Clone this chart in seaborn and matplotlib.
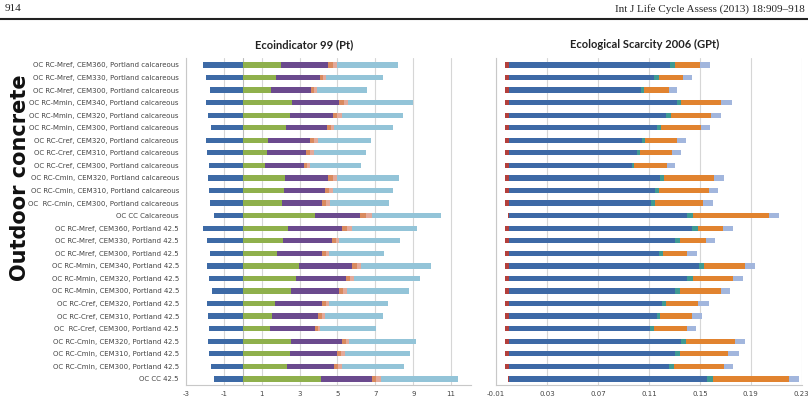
import numpy as np
import pandas as pd
import seaborn as sns
import matplotlib.pyplot as plt

sns.set_style("white")
plt.rcParams['font.family'] = ['DejaVu Sans']
plt.rcParams['axes.unicode_minus'] = False

labels = ["OC RC-Mref, CEM360, Portland calcareous",
          "OC RC-Mref, CEM330, Portland calcareous",
          "OC RC-Mref, CEM300, Portland calcareous",
          "OC RC-Mmin, CEM340, Portland calcareous",
          "OC RC-Mmin, CEM320, Portland calcareous",
          "OC RC-Mmin, CEM300, Portland calcareous",
          "OC RC-Cref, CEM320, Portland calcareous",
          "OC RC-Cref, CEM310, Portland calcareous",
          "OC RC-Cref, CEM300, Portland calcareous",
          "OC RC-Cmin, CEM320, Portland calcareous",
          "OC RC-Cmin, CEM310, Portland calcareous",
          "OC  RC-Cmin, CEM300, Portland calcareous",
          "OC CC Calcareous",
          "OC RC-Mref, CEM360, Portland 42.5",
          "OC RC-Mref, CEM330, Portland 42.5",
          "OC RC-Mref, CEM300, Portland 42.5",
          "OC RC-Mmin, CEM340, Portland 42.5",
          "OC RC-Mmin, CEM320, Portland 42.5",
          "OC RC-Mmin, CEM300, Portland 42.5",
          "OC RC-Cref, CEM320, Portland 42.5",
          "OC RC-Cref, CEM310, Portland 42.5",
          "OC  RC-Cref, CEM300, Portland 42.5",
          "OC RC-Cmin, CEM320, Portland 42.5",
          "OC RC-Cmin, CEM310, Portland 42.5",
          "OC RC-Cmin, CEM300, Portland 42.5",
          "OC CC 42.5"]

# Ecoindicator 99 (Pt) - segments
eco_neg = [-2.12, -1.95, -1.73, -1.95, -1.81, -1.68, -1.91, -1.86, -1.77, -1.82, -1.77, -1.72, -1.54,
           -2.09, -1.89, -1.72, -1.89, -1.77, -1.63, -1.86, -1.82, -1.77, -1.81, -1.77, -1.68, -1.50]
eco_green = [2.04, 1.77, 1.50, 2.62, 2.48, 2.30, 1.36, 1.27, 1.20, 2.25, 2.16, 2.07, 3.81,
             2.39, 2.12, 1.81, 2.96, 2.80, 2.57, 1.68, 1.54, 1.45, 2.57, 2.48, 2.35, 4.12]
eco_purple = [2.48, 2.30, 2.09, 2.48, 2.30, 2.16, 2.18, 2.09, 2.02, 2.27, 2.18, 2.12, 2.39,
              2.87, 2.60, 2.39, 2.83, 2.64, 2.51, 2.51, 2.44, 2.35, 2.69, 2.51, 2.46, 2.69]
eco_orange = [0.22, 0.18, 0.18, 0.24, 0.22, 0.18, 0.20, 0.20, 0.18, 0.22, 0.20, 0.20, 0.31,
              0.25, 0.18, 0.18, 0.22, 0.20, 0.20, 0.18, 0.18, 0.15, 0.18, 0.20, 0.22, 0.25]
eco_pink = [0.22, 0.17, 0.17, 0.24, 0.22, 0.17, 0.21, 0.19, 0.17, 0.22, 0.21, 0.21, 0.31,
            0.25, 0.17, 0.17, 0.22, 0.21, 0.21, 0.17, 0.17, 0.15, 0.17, 0.21, 0.22, 0.25]
eco_lblue = [3.22, 2.96, 2.64, 3.40, 3.22, 3.10, 2.81, 2.76, 2.65, 3.27, 3.19, 3.12, 3.63,
             3.42, 3.24, 2.88, 3.68, 3.49, 3.27, 3.12, 3.05, 2.96, 3.54, 3.42, 3.27, 4.04]

# Ecological Scarcity 2006 (GPt) - segments
es_red = [-0.003] * 12 + [-0.0008] + [-0.003] * 12 + [-0.0008]
es_blue = [0.1267, 0.1143, 0.1039, 0.1319, 0.1233, 0.1162, 0.1049, 0.1010, 0.0965, 0.1188, 0.1149, 0.1115, 0.1398,
           0.1442, 0.1306, 0.1180, 0.1490, 0.1398, 0.1306, 0.1206, 0.1162, 0.1109, 0.1353, 0.1306, 0.1259, 0.1555]
es_teal = [0.0034, 0.0037, 0.0024, 0.0034, 0.0042, 0.0034, 0.0021, 0.0021, 0.0021, 0.0034, 0.0034, 0.0029, 0.0052,
           0.0047, 0.0039, 0.0034, 0.0045, 0.0045, 0.0039, 0.0026, 0.0026, 0.0031, 0.0037, 0.0039, 0.0039, 0.0045]
es_orange = [0.0197, 0.0191, 0.0191, 0.0315, 0.0315, 0.0312, 0.0249, 0.0254, 0.0254, 0.0386, 0.0386, 0.0378, 0.0590,
             0.0191, 0.0202, 0.0189, 0.0317, 0.0315, 0.0320, 0.0257, 0.0254, 0.0257, 0.0388, 0.0380, 0.0388, 0.0598]
es_lav = [0.0079, 0.0071, 0.0066, 0.0084, 0.0076, 0.0073, 0.0071, 0.0066, 0.0066, 0.0079, 0.0071, 0.0079, 0.0084,
          0.0084, 0.0073, 0.0073, 0.0084, 0.0079, 0.0073, 0.0079, 0.0073, 0.0071, 0.0079, 0.0084, 0.0073, 0.0084]

eco = pd.DataFrame({"label": labels, "neg": eco_neg, "green": eco_green, "purple": eco_purple,
                    "orange": eco_orange, "pink": eco_pink, "lblue": eco_lblue})
es = pd.DataFrame({"label": labels, "red": es_red, "blue": es_blue, "teal": es_teal,
                   "orange": es_orange, "lav": es_lav})

# cumulative ends for stacking (drawn largest first)
eco["c_green"] = eco["green"]
eco["c_purple"] = eco["c_green"] + eco["purple"]
eco["c_orange"] = eco["c_purple"] + eco["orange"]
eco["c_pink"] = eco["c_orange"] + eco["pink"]
eco["c_lblue"] = eco["c_pink"] + eco["lblue"]

es["c_blue"] = es["blue"]
es["c_teal"] = es["c_blue"] + es["teal"]
es["c_orange"] = es["c_teal"] + es["orange"]
es["c_lav"] = es["c_orange"] + es["lav"]

fig = plt.figure(figsize=(8.08, 4.0), dpi=100)
ax1 = fig.add_axes([0.230, 0.037, 0.353, 0.818])
ax2 = fig.add_axes([0.614, 0.037, 0.379, 0.818])

bw = 0.42
kw = dict(y="label", orient="h", width=bw, saturation=1, errorbar=None, linewidth=0)

for col, c in [("c_lblue", "#93c4d8"), ("c_pink", "#e3a99a"), ("c_orange", "#d98a5e"),
               ("c_purple", "#6b4a8e"), ("c_green", "#8fb04c"), ("neg", "#3d6aa6")]:
    sns.barplot(data=eco, x=col, color=c, ax=ax1, **kw)

for col, c in [("c_lav", "#a2b6dd"), ("c_orange", "#e1832f"), ("c_teal", "#3f9a93"),
               ("c_blue", "#3d69a6"), ("red", "#b3403c")]:
    sns.barplot(data=es, x=col, color=c, ax=ax2, **kw)

ax1.set_xlim(-3, 12.05)
ax1.set_xticks(np.arange(-3, 12, 2))
ax2.set_xlim(-0.01, 0.2305)
xt = np.arange(-0.01, 0.2301, 0.04)
ax2.set_xticks(xt)
ax2.set_xticklabels(["%.2f" % v for v in xt])

for ax in (ax1, ax2):
    ax.set_ylim(25.5, -0.55)
    ax.set_xlabel("")
    ax.set_ylabel("")
    ax.grid(axis="x", color="#d6d6d6", linewidth=0.8)
    ax.set_axisbelow(True)
    ax.tick_params(axis="x", labelsize=5, colors="#444444", length=0, pad=4)
    for s in ("top", "right"):
        ax.spines[s].set_visible(False)
    for s in ("left", "bottom"):
        ax.spines[s].set_color("#c8c8c8")
        ax.spines[s].set_linewidth(0.8)

ax1.axvline(0, color="#bdbdbd", linewidth=0.8, zorder=0.5)
ax1.tick_params(axis="y", labelsize=5, colors="#444444", length=0, pad=5)
ax2.set_yticks([])

fig.text(0.377, 0.888, "Ecoindicator 99 (Pt)", ha="center", va="center",
         fontsize=8, fontweight="bold", family="Lato", color="#222222")
fig.text(0.798, 0.888, "Ecological Scarcity 2006 (GPt)", ha="center", va="center",
         fontsize=8, fontweight="bold", family="Lato", color="#222222")

fig.text(0.025, 0.555, "Outdoor concrete", rotation=90, ha="center", va="center",
         fontsize=15, fontweight="bold", color="#111111")

# page header
fig.text(0.006, 0.978, "914", ha="left", va="center", fontsize=8, family="Liberation Serif")
fig.text(0.996, 0.978, "Int J Life Cycle Assess (2013) 18:909\u2013918", ha="right", va="center",
         fontsize=8, family="Liberation Serif")
fig.add_artist(plt.Line2D([0, 1], [0.952, 0.952], color="#222222", linewidth=1.5,
                          transform=fig.transFigure))

fig.savefig("out.png", dpi=100)
